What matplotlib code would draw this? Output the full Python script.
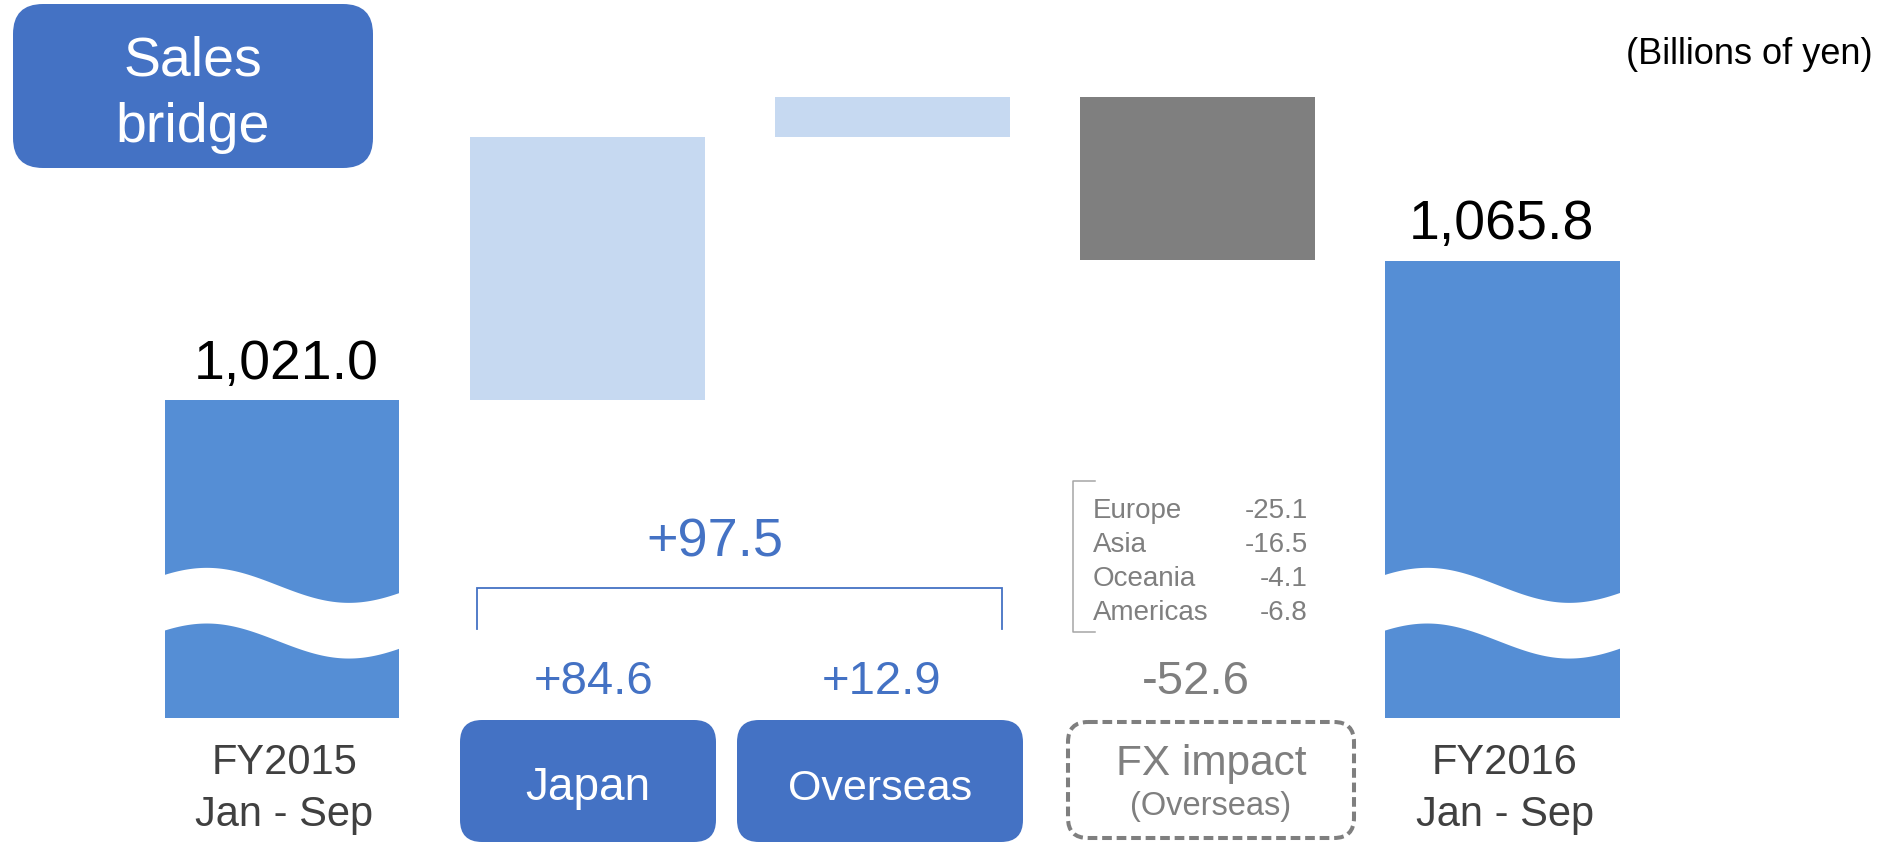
import numpy as np
import matplotlib
matplotlib.use("Agg")
import matplotlib.pyplot as plt
from matplotlib.patches import FancyBboxPatch, Polygon
from matplotlib.transforms import blended_transform_factory

plt.rcParams["font.family"] = ["Liberation Sans", "DejaVu Sans"]

# ---- data (billions of yen) ----
start_label = ["FY2015", "Jan - Sep"]
end_label = ["FY2016", "Jan - Sep"]
start_total = 1021.0
end_total = 1065.8
change_names = ["Japan", "Overseas", "FX impact"]
change_values = [84.6, 12.9, -52.6]
fx_regions = ["Europe", "Asia", "Oceania", "Americas"]
fx_region_values = [-25.1, -16.5, -4.1, -6.8]

# ---- colours ----
TOTAL_BLUE = "#558ED5"
INCREASE_BLUE = "#C6D9F1"
FX_GRAY = "#7F7F7F"
BOX_BLUE = "#4472C4"
TEXT_BLUE = "#4472C4"
TEXT_GRAY = "#7F7F7F"
LABEL_DARK = "#404040"

W, H = 1899, 845
fig = plt.figure(figsize=(W / 100, H / 100), dpi=100)

# pixel-space overlay for annotation furniture
ov = fig.add_axes([0, 0, 1, 1])
ov.set_xlim(0, W)
ov.set_ylim(H, 0)
ov.axis("off")
ov.patch.set_visible(False)

# bar axes (broken value axis, bars clipped at the bottom)
ax = fig.add_axes([0, 1 - 719 / H, 1, 719 / H])
ax.set_xlim(-0.9243, 5.2999)
ax.set_ylim(918.75, 1149.94)
ax.axis("off")
ax.patch.set_visible(False)

BAR_W = 0.77
n = len(change_values) + 2
xs = np.arange(n)

# totals
ax.bar(xs[0], start_total, width=BAR_W, color=TOTAL_BLUE, zorder=2)
ax.bar(xs[-1], end_total, width=BAR_W, color=TOTAL_BLUE, zorder=2)

# floating change bars
running = start_total
step_colors = [INCREASE_BLUE, INCREASE_BLUE, FX_GRAY]
for i, (v, c) in enumerate(zip(change_values, step_colors), start=1):
    bottom = running if v >= 0 else running + v
    ax.bar(xs[i], abs(v), bottom=bottom, width=BAR_W, color=c, zorder=2)
    running += v

# wavy axis-break band across total bars
def break_band(xc):
    left = xc - BAR_W / 2
    t = np.linspace(left - 0.02, left + BAR_W + 0.02, 200)
    theta = 2 * np.pi * (t - left - 0.18 * BAR_W) / (1.21 * BAR_W)
    top = 961.4 + 5.63 * np.cos(theta)
    bot = 943.5 + 5.63 * np.cos(theta)
    pts = np.column_stack([np.r_[t, t[::-1]], np.r_[top, bot[::-1]]])
    ax.add_patch(Polygon(pts, closed=True, facecolor="white",
                         edgecolor="none", zorder=3))

break_band(xs[0])
break_band(xs[-1])

# total value labels
for x, v, dx in [(xs[0], start_total, 3), (xs[-1], end_total, -1)]:
    ax.annotate(f"{v:,.1f}", xy=(x, v), xytext=(dx, 16),
                textcoords="offset points", ha="center", va="baseline",
                fontsize=40, color="black", zorder=4)

# x in bar data units, y in pixels
bx = blended_transform_factory(ax.transData, ov.transData)

# category labels under totals
for x, lines in [(xs[0], start_label), (xs[-1], end_label)]:
    for line, yb in zip(lines, [774, 826]):
        ov.text(x + 0.008, yb, line, transform=bx, ha="center", va="baseline",
                fontsize=30, color=LABEL_DARK)

# change values
nudges = [0.02, -0.035, -0.005]
for i, (v, dx) in enumerate(zip(change_values, nudges), start=1):
    col = TEXT_BLUE if v >= 0 else TEXT_GRAY
    ov.text(xs[i] + dx, 694, f"{v:+.1f}", transform=bx, ha="center",
            va="baseline", fontsize=34, color=col)

# combined Japan + Overseas change with bracket
combined = change_values[0] + change_values[1]
ov.text(715, 557, f"{combined:+.1f}", ha="center", va="baseline",
        fontsize=39, color=TEXT_BLUE)
ov.plot([477, 477, 1002, 1002], [630, 589, 589, 630], color=TEXT_BLUE,
        lw=1.3, solid_joinstyle="miter")

# FX breakdown by region
ov.plot([1095, 1073, 1073, 1095], [482, 482, 633, 633], color="#A6A6A6", lw=1.1)
for k, (name, val) in enumerate(zip(fx_regions, fx_region_values)):
    yc = 511 + 34 * k
    ov.text(1093, yc, name, ha="left", va="center", fontsize=20, color=TEXT_GRAY)
    ov.text(1308, yc, f"{val:.1f}", ha="right", va="center", fontsize=20,
            color=TEXT_GRAY)

# category boxes
def rbox(x0, y0, x1, y1, r, **kw):
    p = FancyBboxPatch((x0, y0), x1 - x0, y1 - y0,
                       boxstyle=f"round,pad=0,rounding_size={r}", **kw)
    ov.add_patch(p)
    return p

rbox(13, 5, 373, 169, 30, facecolor=BOX_BLUE, edgecolor="none")
ov.text(193, 75, "Sales", ha="center", va="baseline", fontsize=40, color="white")
ov.text(193, 142, "bridge", ha="center", va="baseline", fontsize=40, color="white")

rbox(460, 721, 716, 843, 22, facecolor=BOX_BLUE, edgecolor="none")
ov.text(588, 800, change_names[0], ha="center", va="baseline", fontsize=33,
        color="white")
rbox(737, 721, 1023, 843, 22, facecolor=BOX_BLUE, edgecolor="none")
ov.text(880, 800, change_names[1], ha="center", va="baseline", fontsize=31,
        color="white")

rbox(1068, 723, 1354, 839, 20, facecolor="none", edgecolor=TEXT_GRAY,
     lw=2.9, linestyle=(0, (2.4, 1.2)))
ov.text(1211, 775, change_names[2], ha="center", va="baseline", fontsize=30.5,
        color=TEXT_GRAY)
ov.text(1211, 815, "(Overseas)", ha="center", va="baseline", fontsize=23.5,
        color=TEXT_GRAY)

# unit note
ov.text(1873, 64, "(Billions of yen)", ha="right", va="baseline",
        fontsize=26, color="black")

fig.savefig("out.png", dpi=100)
